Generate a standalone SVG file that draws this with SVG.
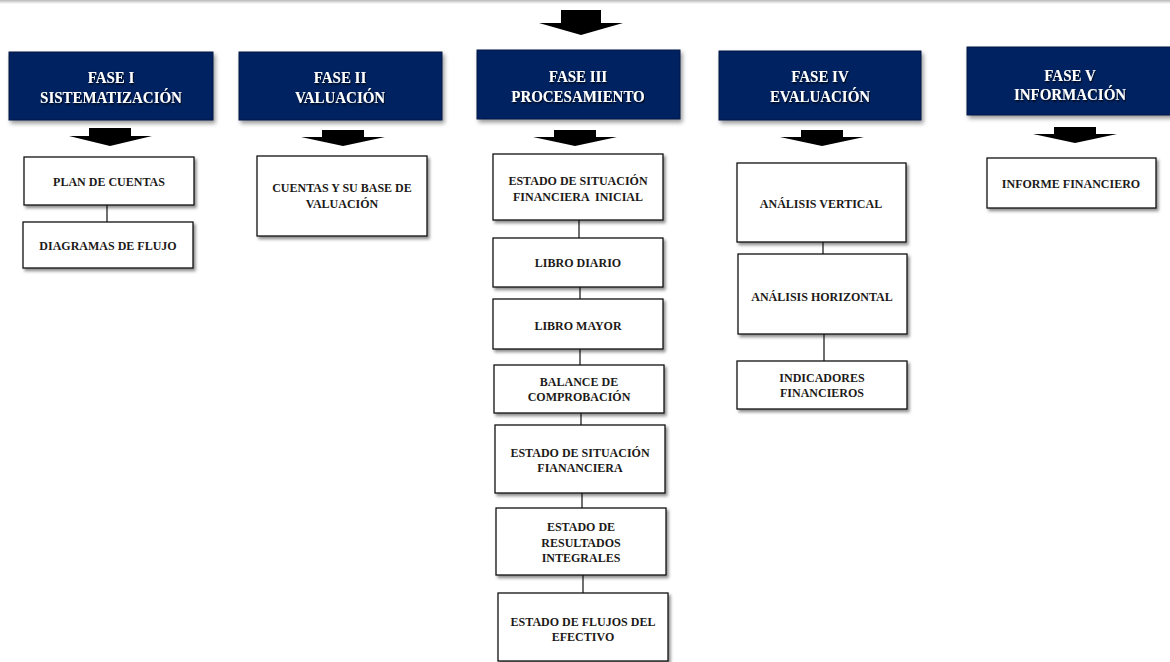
<svg xmlns="http://www.w3.org/2000/svg" width="1170" height="662" viewBox="0 0 1170 662">
  <defs>
    <filter id="boxShadow" x="-10%" y="-10%" width="130%" height="140%">
      <feDropShadow dx="2" dy="2.5" stdDeviation="1.5" flood-color="#000" flood-opacity="0.45"/>
    </filter>
    <filter id="hdrShadow" x="-10%" y="-10%" width="130%" height="140%">
      <feDropShadow dx="2" dy="3" stdDeviation="2" flood-color="#000" flood-opacity="0.4"/>
    </filter>
    <filter id="txtShadow" x="-10%" y="-30%" width="130%" height="170%">
      <feDropShadow dx="1" dy="1.2" stdDeviation="0.8" flood-color="#000" flood-opacity="0.9"/>
    </filter>
    <linearGradient id="topLine" x1="0" y1="0" x2="0" y2="1">
      <stop offset="0" stop-color="#b8b8b8"/>
      <stop offset="1" stop-color="#ffffff"/>
    </linearGradient>
  </defs>
  <style>
    .hdr { fill: #002060; stroke: #0b1a45; stroke-width: 1; filter: url(#hdrShadow); }
    .box { fill: #ffffff; stroke: #111111; stroke-width: 1.3; filter: url(#boxShadow); }
    .ht { font-family: "Liberation Serif", "Times New Roman", serif; font-weight: bold; font-size: 17px; fill: #ffffff; text-anchor: middle; filter: url(#txtShadow); }
    .bt { font-family: "Liberation Serif", "Times New Roman", serif; font-weight: bold; font-size: 12px; fill: #1c1a18; text-anchor: middle; }
    .arr { fill: #000000; }
    .conn { stroke: #222222; stroke-width: 1.3; fill: none; }
  </style>

  <rect x="0" y="0" width="1170" height="4" fill="url(#topLine)"/>

  <!-- top arrow -->
  <polygon class="arr" points="561,10 601,10 601,23 623,23 581,35 539,23 561,23"/>

  <!-- Phase headers -->
  <g id="fase1">
    <rect class="hdr" x="9" y="52" width="204" height="68"/>
    <g transform="translate(111,0) scale(0.88,1)">
      <text class="ht" x="0" y="83">FASE I</text>
      <text class="ht" x="0" y="103">SISTEMATIZACIÓN</text>
    </g>
  </g>
  <g id="fase2">
    <rect class="hdr" x="239" y="52" width="203" height="68"/>
    <g transform="translate(340,0) scale(0.88,1)">
      <text class="ht" x="0" y="83">FASE II</text>
      <text class="ht" x="0" y="103">VALUACIÓN</text>
    </g>
  </g>
  <g id="fase3">
    <rect class="hdr" x="477" y="50" width="203" height="69"/>
    <g transform="translate(578,0) scale(0.88,1)">
      <text class="ht" x="0" y="82">FASE III</text>
      <text class="ht" x="0" y="102">PROCESAMIENTO</text>
    </g>
  </g>
  <g id="fase4">
    <rect class="hdr" x="719" y="51" width="202" height="69"/>
    <g transform="translate(820,0) scale(0.88,1)">
      <text class="ht" x="0" y="82">FASE IV</text>
      <text class="ht" x="0" y="102">EVALUACIÓN</text>
    </g>
  </g>
  <g id="fase5">
    <rect class="hdr" x="967" y="47" width="205" height="68"/>
    <g transform="translate(1070,0) scale(0.88,1)">
      <text class="ht" x="0" y="81">FASE V</text>
      <text class="ht" x="0" y="100">INFORMACIÓN</text>
    </g>
  </g>

  <!-- arrows under headers -->
  <g id="arrows">
    <polygon class="arr" points="89,128 131,128 131,136 152,136 110,146 69,136 89,136"/>
    <polygon class="arr" points="322,130 364,130 364,137 385,137 343,146 301,137 322,137"/>
    <polygon class="arr" points="554,130 596,130 596,137 617,137 575,146 533,137 554,137"/>
    <polygon class="arr" points="801,130 843,130 843,137 864,137 822,146 780,137 801,137"/>
    <polygon class="arr" points="1054,127 1096,127 1096,134 1117,134 1075,143 1033,134 1054,134"/>
  </g>

  <!-- connectors -->
  <g id="connectors">
    <line class="conn" x1="107" y1="205" x2="107" y2="222"/>
    <line class="conn" x1="579" y1="220" x2="579" y2="238"/>
    <line class="conn" x1="580" y1="287" x2="580" y2="299"/>
    <line class="conn" x1="580" y1="349" x2="580" y2="365"/>
    <line class="conn" x1="581" y1="413" x2="581" y2="425"/>
    <line class="conn" x1="582" y1="493" x2="582" y2="508"/>
    <line class="conn" x1="583" y1="575" x2="583" y2="593"/>
    <line class="conn" x1="823" y1="242" x2="823" y2="254"/>
    <line class="conn" x1="824" y1="334" x2="824" y2="361"/>
  </g>

  <!-- Fase I children -->
  <g id="plan-cuentas">
    <rect class="box" x="24" y="157" width="170" height="48"/>
    <text class="bt" x="109" y="186">PLAN DE CUENTAS</text>
  </g>
  <g id="diagramas-flujo">
    <rect class="box" x="23" y="222" width="170" height="46"/>
    <text class="bt" x="108" y="250">DIAGRAMAS DE FLUJO</text>
  </g>

  <!-- Fase II child -->
  <g id="cuentas-base">
    <rect class="box" x="257" y="156" width="170" height="80"/>
    <text class="bt" x="342" y="192">CUENTAS Y SU BASE DE</text>
    <text class="bt" x="342" y="208">VALUACIÓN</text>
  </g>

  <!-- Fase III children -->
  <g id="esf-inicial">
    <rect class="box" x="493" y="154" width="170" height="66"/>
    <text class="bt" x="578" y="185">ESTADO DE SITUACIÓN</text>
    <text class="bt" x="578" y="201" xml:space="preserve">FINANCIERA  INICIAL</text>
  </g>
  <g id="libro-diario">
    <rect class="box" x="493" y="238" width="170" height="49"/>
    <text class="bt" x="578" y="267">LIBRO DIARIO</text>
  </g>
  <g id="libro-mayor">
    <rect class="box" x="493" y="299" width="170" height="50"/>
    <text class="bt" x="578" y="330">LIBRO MAYOR</text>
  </g>
  <g id="balance">
    <rect class="box" x="494" y="365" width="170" height="48"/>
    <text class="bt" x="579" y="386">BALANCE DE</text>
    <text class="bt" x="579" y="401">COMPROBACIÓN</text>
  </g>
  <g id="esf">
    <rect class="box" x="495" y="425" width="170" height="68"/>
    <text class="bt" x="580" y="457">ESTADO DE SITUACIÓN</text>
    <text class="bt" x="580" y="472">FIANANCIERA</text>
  </g>
  <g id="eri">
    <rect class="box" x="496" y="508" width="170" height="67"/>
    <text class="bt" x="581" y="531">ESTADO DE</text>
    <text class="bt" x="581" y="547">RESULTADOS</text>
    <text class="bt" x="581" y="562">INTEGRALES</text>
  </g>
  <g id="efe">
    <rect class="box" x="498" y="593" width="170" height="68"/>
    <text class="bt" x="583" y="626">ESTADO DE FLUJOS DEL</text>
    <text class="bt" x="583" y="641">EFECTIVO</text>
  </g>

  <!-- Fase IV children -->
  <g id="analisis-vertical">
    <rect class="box" x="737" y="163" width="169" height="79"/>
    <text class="bt" x="821" y="208">ANÁLISIS VERTICAL</text>
  </g>
  <g id="analisis-horizontal">
    <rect class="box" x="738" y="254" width="169" height="80"/>
    <text class="bt" x="822" y="301">ANÁLISIS HORIZONTAL</text>
  </g>
  <g id="indicadores">
    <rect class="box" x="737" y="361" width="170" height="48"/>
    <text class="bt" x="822" y="382">INDICADORES</text>
    <text class="bt" x="822" y="397">FINANCIEROS</text>
  </g>

  <!-- Fase V child -->
  <g id="informe">
    <rect class="box" x="987" y="158" width="169" height="50"/>
    <text class="bt" x="1071" y="188">INFORME FINANCIERO</text>
  </g>
</svg>
